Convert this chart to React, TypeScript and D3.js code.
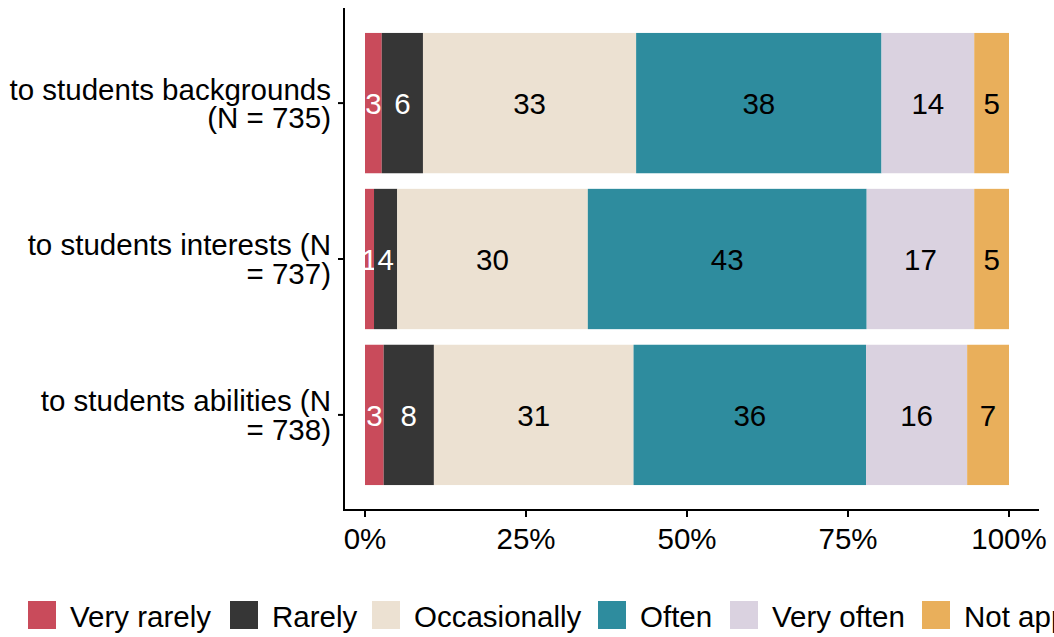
import React from "react";
import * as d3 from "d3";

const categories = ["backgrounds", "interests", "abilities"];
const categoryLabels = [
  ["to students backgrounds", "(N = 735)"],
  ["to students interests (N", "= 737)"],
  ["to students abilities (N", "= 738)"],
];
const levels = ["Very rarely", "Rarely", "Occasionally", "Often", "Very often", "Not applicable"];
const veryRarely = [2.6, 1.4, 2.9];
const rarely = [6.4, 3.6, 7.8];
const occasionally = [33.1, 29.6, 31.0];
const often = [38.1, 43.3, 36.1];
const veryOften = [14.4, 16.7, 15.7];
const notApplicable = [5.4, 5.4, 6.5];
const xTicks = [0, 25, 50, 75, 100];

const colors = ["#C94B5B", "#363636", "#ECE1D2", "#2E8C9E", "#DAD2E0", "#E9AF5B"];
const textColors = ["#ffffff", "#ffffff", "#000000", "#000000", "#000000", "#000000"];

const W = 1054;
const H = 637;
const FONT = "'Liberation Sans', Arial, sans-serif";
const FS = 29.5;

export default function App() {
  const series = [veryRarely, rarely, occasionally, often, veryOften, notApplicable];
  const rows = categories.map((c, i) => {
    const r: any = { cat: c };
    levels.forEach((l, j) => (r[l] = series[j][i]));
    return r;
  });
  const stack = d3.stack().keys(levels).offset(d3.stackOffsetExpand)(rows as any);

  const x = d3.scaleLinear().domain([0, 1]).range([365, 1009]);
  const y = d3.scaleBand().domain(categories).range([8, 510]).paddingInner(0.1).paddingOuter(0.16);
  const axisX = 344;
  const axisY = 510;

  const legendX = [28, 230, 372, 598, 730, 922];

  return (
    <svg width={W} height={H} style={{ position: "absolute", left: 0, top: 0, background: "#fff" }} fontFamily={FONT}>
      {stack.map((layer, j) =>
        layer.map((d, i) => {
          const x0 = x(d[0]);
          const x1 = x(d[1]);
          const cat = categories[i];
          const yy = y(cat)!;
          const val = series[j][i];
          return (
            <g key={`${j}-${i}`}>
              <rect x={x0} y={yy} width={x1 - x0} height={y.bandwidth()} fill={colors[j]} />
              <text
                x={(x0 + x1) / 2}
                y={yy + y.bandwidth() / 2}
                dy="0.36em"
                textAnchor="middle"
                fontSize={FS}
                fill={textColors[j]}
              >
                {Math.round(val)}
              </text>
            </g>
          );
        })
      )}
      {/* axes */}
      <line x1={axisX} x2={axisX} y1={8} y2={axisY + 1} stroke="#000" strokeWidth={2} />
      <line x1={axisX - 1} x2={1039} y1={axisY} y2={axisY} stroke="#000" strokeWidth={2} />
      {categories.map((c, i) => {
        const cy = y(c)! + y.bandwidth() / 2;
        return (
          <g key={c}>
            <line x1={axisX - 6} x2={axisX} y1={cy} y2={cy} stroke="#000" strokeWidth={2} />
            <text x={331} y={cy} textAnchor="end" fontSize={FS} fill="#000">
              <tspan x={331} dy="-0.12em">{categoryLabels[i][0]}</tspan>
              <tspan x={331} dy="0.98em">{categoryLabels[i][1]}</tspan>
            </text>
          </g>
        );
      })}
      {xTicks.map((t) => (
        <g key={t}>
          <line x1={x(t / 100)} x2={x(t / 100)} y1={axisY} y2={axisY + 7} stroke="#000" strokeWidth={2} />
          <text x={x(t / 100)} y={549} textAnchor="middle" fontSize={FS} fill="#000">
            {t}%
          </text>
        </g>
      ))}
      {/* legend */}
      {levels.map((l, j) => (
        <g key={l}>
          <rect x={legendX[j]} y={601} width={28} height={28} fill={colors[j]} />
          <text x={legendX[j] + 42} y={616} dy="0.36em" fontSize={FS} fill="#000">
            {l}
          </text>
        </g>
      ))}
    </svg>
  );
}
